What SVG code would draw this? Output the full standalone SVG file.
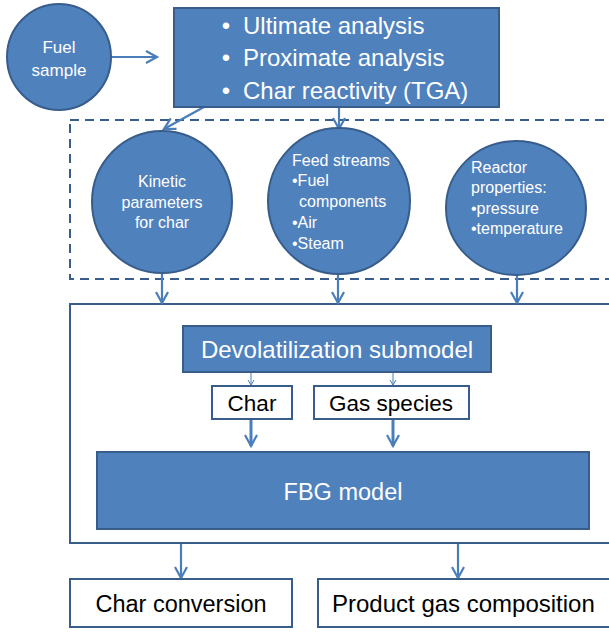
<svg xmlns="http://www.w3.org/2000/svg" width="609" height="633" viewBox="0 0 609 633">
<defs>
<style>
.blue{fill:#4F81BD;stroke:#385D8A;stroke-width:2}
.white{fill:#FFFFFF;stroke:#385D8A;stroke-width:2}
.frame{fill:none;stroke:#385D8A;stroke-width:2}
.dash{fill:none;stroke:#385D8A;stroke-width:2;stroke-dasharray:9,6}
.con{fill:none;stroke:#4A7EBB;stroke-width:2.2}
.thin{fill:none;stroke:#4A7EBB;stroke-width:1}
.wt{fill:#FFFFFF;font-family:'Liberation Sans',Arial,sans-serif}
.bt{fill:#000000;font-family:'Liberation Sans',Arial,sans-serif}
.ct{font-size:16px}
</style>
<marker id="ah" markerUnits="userSpaceOnUse" markerWidth="16" markerHeight="16" refX="11" refY="6" orient="auto" overflow="visible">
<path d="M0,0 L11,6 L0,12" fill="none" stroke="#4A7EBB" stroke-width="2.2"/>
</marker>
<marker id="ahs" markerUnits="userSpaceOnUse" markerWidth="10" markerHeight="10" refX="5" refY="3" orient="auto" overflow="visible">
<path d="M0,0 L5,3 L0,6" fill="none" stroke="#4A7EBB" stroke-width="1"/>
</marker>
</defs>
<rect width="609" height="633" fill="#FFFFFF"/>

<g id="containers">
<rect class="dash" x="70" y="120" width="560" height="159"/>
<rect class="frame" x="70" y="304" width="560" height="239"/>
</g>

<g id="connectors">
<line class="con" x1="111" y1="57" x2="157" y2="57" marker-end="url(#ah)"/>
<line class="con" x1="204" y1="107" x2="164" y2="129" marker-end="url(#ah)"/>
<line class="con" x1="339" y1="107" x2="339" y2="129" marker-end="url(#ah)"/>
<line class="con" x1="162" y1="273" x2="162" y2="303" marker-end="url(#ah)"/>
<line class="con" x1="338" y1="274" x2="338" y2="303" marker-end="url(#ah)"/>
<line class="con" x1="517" y1="275" x2="517" y2="303" marker-end="url(#ah)"/>
<line class="thin" x1="251" y1="373" x2="251" y2="385" marker-end="url(#ahs)"/>
<line class="thin" x1="393" y1="373" x2="393" y2="385" marker-end="url(#ahs)"/>
<line class="con" style="stroke-width:3" x1="251" y1="420" x2="251" y2="446" marker-end="url(#ah)"/>
<line class="con" style="stroke-width:3" x1="393" y1="420" x2="393" y2="446" marker-end="url(#ah)"/>
<line class="con" x1="181" y1="544" x2="181" y2="578" marker-end="url(#ah)"/>
<line class="con" x1="458" y1="544" x2="458" y2="578" marker-end="url(#ah)"/>
</g>

<g id="fuel-sample">
<ellipse class="blue" cx="59" cy="57" rx="52" ry="53"/>
<text class="wt" x="59" y="53" font-size="17" text-anchor="middle">Fuel</text>
<text class="wt" x="59" y="76" font-size="17" text-anchor="middle">sample</text>
</g>

<g id="analysis">
<rect class="blue" x="174" y="8" width="325" height="99"/>
<text class="wt" x="226" y="34" font-size="24" text-anchor="middle">•</text>
<text class="wt" x="243" y="34" font-size="24">Ultimate analysis</text>
<text class="wt" x="226" y="66" font-size="24" text-anchor="middle">•</text>
<text class="wt" x="243" y="66" font-size="24">Proximate analysis</text>
<text class="wt" x="226" y="99" font-size="24" text-anchor="middle">•</text>
<text class="wt" x="243" y="99" font-size="24">Char reactivity (TGA)</text>
</g>

<g id="kinetic">
<ellipse class="blue" cx="162" cy="202" rx="70" ry="71"/>
<text class="wt ct" x="162" y="187" text-anchor="middle">Kinetic</text>
<text class="wt ct" x="162" y="208" text-anchor="middle">parameters</text>
<text class="wt ct" x="162" y="228" text-anchor="middle">for char</text>
</g>

<g id="feed-streams">
<ellipse class="blue" cx="339" cy="201" rx="71" ry="73"/>
<text class="wt ct" x="292" y="166">Feed streams</text>
<text class="wt ct" x="292" y="186">•Fuel</text>
<text class="wt ct" x="299" y="207">components</text>
<text class="wt ct" x="292" y="228">•Air</text>
<text class="wt ct" x="292" y="249">•Steam</text>
</g>

<g id="reactor">
<ellipse class="blue" cx="516" cy="208" rx="70" ry="67"/>
<text class="wt ct" x="471" y="173">Reactor</text>
<text class="wt ct" x="471" y="193">properties:</text>
<text class="wt ct" x="471" y="214">•pressure</text>
<text class="wt ct" x="471" y="234">•temperature</text>
</g>

<g id="devolatilization">
<rect class="blue" x="183" y="326" width="308" height="46"/>
<text class="wt" x="337" y="358" font-size="24" text-anchor="middle">Devolatilization submodel</text>
</g>

<g id="char">
<rect class="white" x="212" y="386" width="80" height="33"/>
<text class="bt" x="252" y="411" font-size="22.5" text-anchor="middle">Char</text>
</g>

<g id="gas-species">
<rect class="white" x="314" y="386" width="155" height="33"/>
<text class="bt" x="391" y="411" font-size="22.5" text-anchor="middle">Gas species</text>
</g>

<g id="fbg-model">
<rect class="blue" x="97" y="452" width="492" height="77"/>
<text class="wt" x="343" y="500" font-size="23.5" text-anchor="middle">FBG model</text>
</g>

<g id="char-conversion">
<rect class="white" x="70" y="579" width="222" height="48"/>
<text class="bt" x="181" y="612" font-size="23.5" text-anchor="middle">Char conversion</text>
</g>

<g id="product-gas">
<rect class="white" x="318" y="579" width="320" height="48"/>
<text class="bt" x="332" y="612" font-size="24">Product gas composition</text>
</g>
</svg>
